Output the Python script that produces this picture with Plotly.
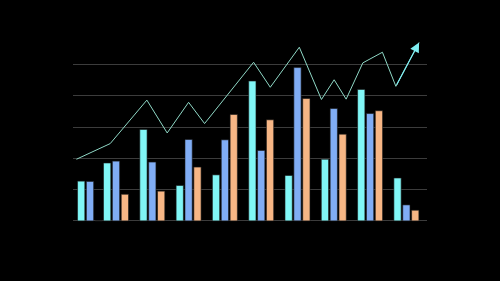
import plotly.graph_objects as go

# ---- data ----
groups = ["G1", "G2", "G3", "G4", "G5", "G6", "G7", "G8", "G9", "G10"]
series_a = [12.7, 18.5, 29.2, 11.3, 14.7, 44.7, 14.5, 19.7, 42.0, 13.7]  # cyan
series_b = [12.6, 19.1, 18.8, 26.0, 25.9, 22.5, 49.0, 35.9, 34.3, 5.1]   # blue
series_c = [0.0, 8.5, 9.5, 17.2, 34.0, 32.3, 39.1, 27.7, 35.2, 3.4]      # orange

trend_x = [-0.09, 0.84, 1.85, 2.41, 3.0, 3.44, 4.79, 5.25, 6.05, 6.66,
           7.01, 7.34, 7.80, 8.34, 8.71, 9.35]
trend_y = [19.7, 24.7, 38.6, 28.1, 37.9, 31.1, 50.7, 42.7, 55.5, 38.8,
           45.1, 38.9, 50.5, 53.9, 43.0, 57.0]

grid_vals = [0, 10, 20, 30, 40, 50]

# ---- layout helpers ----
group_pos = [0.284] + list(range(1, len(groups)))
bar_w = 0.2
step = 0.244
colors = ["#80f6f6", "#80adf5", "#f7b685"]
outline = "#1a1a1a"

fig = go.Figure()
for vals, off, col, name in [(series_a, -step, colors[0], "A"),
                             (series_b, 0.0, colors[1], "B"),
                             (series_c, step, colors[2], "C")]:
    fig.add_trace(go.Bar(
        x=[p + off for p in group_pos], y=vals, width=bar_w, name=name,
        marker=dict(color=col, line=dict(color=outline, width=0.6)),
        hoverinfo="skip"))

fig.add_trace(go.Scatter(
    x=trend_x, y=trend_y, mode="lines",
    line=dict(color="#8fd8c6", width=1), hoverinfo="skip"))

fig.add_annotation(
    x=trend_x[-1], y=trend_y[-1], ax=trend_x[-2], ay=trend_y[-2],
    xref="x", yref="y", axref="x", ayref="y", text="",
    showarrow=True, arrowhead=2, arrowsize=1.6, arrowwidth=1.2,
    arrowcolor="#7feef2")

fig.update_layout(
    width=500, height=281,
    margin=dict(l=73, r=73, t=5, b=57),
    paper_bgcolor="black", plot_bgcolor="black",
    barmode="overlay", showlegend=False,
    xaxis=dict(range=[-0.185, 9.568], showgrid=False, zeroline=False,
               showticklabels=False, ticks=""),
    yaxis=dict(range=[-1, 69], tickvals=grid_vals, showgrid=True,
               gridcolor="#3c3c3c", gridwidth=1, zeroline=False,
               showticklabels=False, ticks=""),
)

fig.write_html("out.html")
